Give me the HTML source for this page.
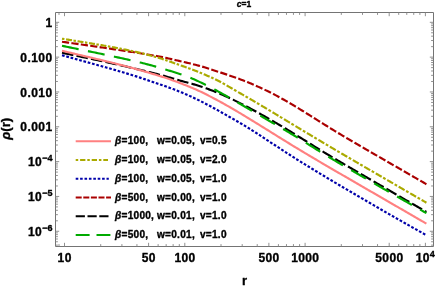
<!DOCTYPE html><html><head><meta charset="utf-8"><title>plot</title><style>html,body{margin:0;padding:0;background:#fff}svg{display:block;will-change:transform}text{font-family:"Liberation Sans",sans-serif;font-weight:bold;fill:#000;stroke:#000;stroke-width:0.35px;stroke-linejoin:round}</style></head><body>
<svg width="436" height="286" viewBox="0 0 436 286">
<rect width="100%" height="100%" fill="#fff"/>
<g fill="none" stroke-width="2.15" stroke-linecap="butt" stroke-linejoin="round">
<path d="M62.00,41.75 L63.50,41.97 L65.00,42.18 L66.50,42.39 L68.00,42.60 L69.50,42.82 L71.00,43.03 L72.50,43.24 L74.00,43.46 L75.50,43.67 L77.00,43.88 L78.50,44.10 L80.00,44.31 L81.50,44.52 L83.00,44.74 L84.50,44.95 L86.00,45.17 L87.50,45.38 L89.00,45.60 L90.50,45.81 L92.00,46.03 L93.50,46.25 L95.00,46.46 L96.50,46.68 L98.00,46.90 L99.50,47.12 L101.00,47.33 L102.50,47.55 L104.00,47.77 L105.50,47.99 L107.00,48.21 L108.50,48.43 L110.00,48.65 L111.50,48.87 L113.00,49.10 L114.50,49.32 L116.00,49.54 L117.50,49.77 L119.00,49.99 L120.50,50.22 L122.00,50.45 L123.50,50.67 L125.00,50.90 L126.50,51.13 L128.00,51.36 L129.50,51.59 L131.00,51.83 L132.50,52.06 L134.00,52.30 L135.50,52.53 L137.00,52.77 L138.50,53.01 L140.00,53.25 L141.50,53.49 L143.00,53.73 L144.50,53.98 L146.00,54.23 L147.50,54.48 L149.00,54.73 L150.50,54.98 L152.00,55.23 L153.50,55.49 L155.00,55.75 L156.50,56.01 L158.00,56.28 L159.50,56.54 L161.00,56.82 L162.50,57.11 L164.00,57.43 L165.50,57.75 L167.00,58.09 L168.50,58.44 L170.00,58.79 L171.50,59.15 L173.00,59.50 L174.50,59.85 L176.00,60.19 L177.50,60.52 L179.00,60.86 L180.50,61.19 L182.00,61.53 L183.50,61.88 L185.00,62.23 L186.50,62.58 L188.00,62.94 L189.50,63.30 L191.00,63.67 L192.50,64.04 L194.00,64.42 L195.50,64.81 L197.00,65.20 L198.50,65.61 L200.00,66.02 L201.50,66.44 L203.00,66.88 L204.50,67.32 L206.00,67.78 L207.50,68.24 L209.00,68.71 L210.50,69.19 L212.00,69.68 L213.50,70.17 L215.00,70.66 L216.50,71.15 L218.00,71.65 L219.50,72.14 L221.00,72.64 L222.50,73.13 L224.00,73.63 L225.50,74.13 L227.00,74.63 L228.50,75.14 L230.00,75.65 L231.50,76.17 L233.00,76.69 L234.50,77.21 L236.00,77.75 L237.50,78.29 L239.00,78.84 L240.50,79.40 L242.00,79.97 L243.50,80.54 L245.00,81.13 L246.50,81.73 L248.00,82.34 L249.50,82.96 L251.00,83.59 L252.50,84.23 L254.00,84.88 L255.50,85.54 L257.00,86.20 L258.50,86.87 L260.00,87.55 L261.50,88.23 L263.00,88.93 L264.50,89.64 L266.00,90.35 L267.50,91.08 L269.00,91.81 L270.50,92.56 L272.00,93.31 L273.50,94.08 L275.00,94.86 L276.50,95.65 L278.00,96.46 L279.50,97.27 L281.00,98.10 L282.50,98.94 L284.00,99.79 L285.50,100.64 L287.00,101.50 L288.50,102.37 L290.00,103.25 L291.50,104.13 L293.00,105.02 L294.50,105.92 L296.00,106.82 L297.50,107.73 L299.00,108.65 L300.50,109.57 L302.00,110.49 L303.50,111.42 L305.00,112.36 L306.50,113.29 L308.00,114.23 L309.50,115.17 L311.00,116.12 L312.50,117.06 L314.00,118.00 L315.50,118.95 L317.00,119.89 L318.50,120.83 L320.00,121.77 L321.50,122.71 L323.00,123.65 L324.50,124.59 L326.00,125.52 L327.50,126.45 L329.00,127.37 L330.50,128.30 L332.00,129.22 L333.50,130.13 L335.00,131.05 L336.50,131.96 L338.00,132.86 L339.50,133.77 L341.00,134.67 L342.50,135.56 L344.00,136.46 L345.50,137.35 L347.00,138.24 L348.50,139.12 L350.00,140.00 L351.50,140.89 L353.00,141.76 L354.50,142.64 L356.00,143.52 L357.50,144.39 L359.00,145.26 L360.50,146.14 L362.00,147.01 L363.50,147.88 L365.00,148.75 L366.50,149.61 L368.00,150.48 L369.50,151.35 L371.00,152.21 L372.50,153.08 L374.00,153.95 L375.50,154.81 L377.00,155.68 L378.50,156.54 L380.00,157.41 L381.50,158.27 L383.00,159.14 L384.50,160.00 L386.00,160.87 L387.50,161.74 L389.00,162.60 L390.50,163.47 L392.00,164.33 L393.50,165.20 L395.00,166.06 L396.50,166.93 L398.00,167.80 L399.50,168.66 L401.00,169.53 L402.50,170.39 L404.00,171.26 L405.50,172.13 L407.00,172.99 L408.50,173.86 L410.00,174.73 L411.50,175.59 L413.00,176.46 L414.50,177.33 L416.00,178.19 L417.50,179.06 L419.00,179.93 L420.50,180.79 L422.00,181.66 L423.50,182.53 L425.00,183.39 L426.40,184.20" stroke="#aa0000" stroke-dasharray="7.2 2.3"/>
<path d="M62.00,52.73 L63.50,53.04 L65.00,53.36 L66.50,53.67 L68.00,53.99 L69.50,54.30 L71.00,54.62 L72.50,54.93 L74.00,55.25 L75.50,55.57 L77.00,55.88 L78.50,56.20 L80.00,56.51 L81.50,56.83 L83.00,57.15 L84.50,57.46 L86.00,57.78 L87.50,58.10 L89.00,58.41 L90.50,58.73 L92.00,59.05 L93.50,59.36 L95.00,59.68 L96.50,60.00 L98.00,60.31 L99.50,60.63 L101.00,60.95 L102.50,61.27 L104.00,61.60 L105.50,61.92 L107.00,62.25 L108.50,62.58 L110.00,62.91 L111.50,63.25 L113.00,63.58 L114.50,63.92 L116.00,64.26 L117.50,64.60 L119.00,64.94 L120.50,65.29 L122.00,65.63 L123.50,65.98 L125.00,66.32 L126.50,66.67 L128.00,67.01 L129.50,67.36 L131.00,67.70 L132.50,68.05 L134.00,68.40 L135.50,68.76 L137.00,69.11 L138.50,69.46 L140.00,69.82 L141.50,70.18 L143.00,70.54 L144.50,70.91 L146.00,71.27 L147.50,71.64 L149.00,72.01 L150.50,72.39 L152.00,72.76 L153.50,73.14 L155.00,73.52 L156.50,73.91 L158.00,74.30 L159.50,74.69 L161.00,75.08 L162.50,75.49 L164.00,75.91 L165.50,76.33 L167.00,76.76 L168.50,77.19 L170.00,77.63 L171.50,78.07 L173.00,78.51 L174.50,78.95 L176.00,79.39 L177.50,79.83 L179.00,80.26 L180.50,80.69 L182.00,81.11 L183.50,81.51 L185.00,81.92 L186.50,82.32 L188.00,82.71 L189.50,83.12 L191.00,83.52 L192.50,83.93 L194.00,84.36 L195.50,84.79 L197.00,85.24 L198.50,85.71 L200.00,86.20 L201.50,86.70 L203.00,87.22 L204.50,87.74 L206.00,88.28 L207.50,88.82 L209.00,89.37 L210.50,89.94 L212.00,90.51 L213.50,91.10 L215.00,91.69 L216.50,92.30 L218.00,92.92 L219.50,93.54 L221.00,94.18 L222.50,94.83 L224.00,95.49 L225.50,96.15 L227.00,96.83 L228.50,97.52 L230.00,98.22 L231.50,98.93 L233.00,99.64 L234.50,100.37 L236.00,101.11 L237.50,101.85 L239.00,102.61 L240.50,103.37 L242.00,104.14 L243.50,104.92 L245.00,105.70 L246.50,106.48 L248.00,107.28 L249.50,108.07 L251.00,108.87 L252.50,109.68 L254.00,110.49 L255.50,111.31 L257.00,112.13 L258.50,112.96 L260.00,113.78 L261.50,114.62 L263.00,115.46 L264.50,116.30 L266.00,117.14 L267.50,117.99 L269.00,118.85 L270.50,119.71 L272.00,120.57 L273.50,121.44 L275.00,122.31 L276.50,123.19 L278.00,124.07 L279.50,124.95 L281.00,125.84 L282.50,126.74 L284.00,127.63 L285.50,128.54 L287.00,129.44 L288.50,130.35 L290.00,131.26 L291.50,132.18 L293.00,133.10 L294.50,134.02 L296.00,134.95 L297.50,135.87 L299.00,136.80 L300.50,137.73 L302.00,138.67 L303.50,139.60 L305.00,140.53 L306.50,141.46 L308.00,142.40 L309.50,143.33 L311.00,144.26 L312.50,145.19 L314.00,146.12 L315.50,147.05 L317.00,147.97 L318.50,148.89 L320.00,149.81 L321.50,150.73 L323.00,151.64 L324.50,152.55 L326.00,153.46 L327.50,154.37 L329.00,155.27 L330.50,156.17 L332.00,157.07 L333.50,157.96 L335.00,158.86 L336.50,159.75 L338.00,160.63 L339.50,161.52 L341.00,162.40 L342.50,163.28 L344.00,164.16 L345.50,165.04 L347.00,165.92 L348.50,166.80 L350.00,167.67 L351.50,168.54 L353.00,169.42 L354.50,170.29 L356.00,171.16 L357.50,172.03 L359.00,172.90 L360.50,173.77 L362.00,174.64 L363.50,175.51 L365.00,176.38 L366.50,177.25 L368.00,178.12 L369.50,178.98 L371.00,179.85 L372.50,180.72 L374.00,181.59 L375.50,182.46 L377.00,183.32 L378.50,184.19 L380.00,185.06 L381.50,185.93 L383.00,186.80 L384.50,187.66 L386.00,188.53 L387.50,189.40 L389.00,190.27 L390.50,191.14 L392.00,192.00 L393.50,192.87 L395.00,193.74 L396.50,194.61 L398.00,195.47 L399.50,196.34 L401.00,197.21 L402.50,198.08 L404.00,198.95 L405.50,199.81 L407.00,200.68 L408.50,201.55 L410.00,202.42 L411.50,203.29 L413.00,204.15 L414.50,205.02 L416.00,205.89 L417.50,206.76 L419.00,207.62 L420.50,208.49 L422.00,209.36 L423.50,210.23 L425.00,211.10 L426.40,211.91" stroke="#000000" stroke-dasharray="11.6 3.2"/>
<path d="M62.00,55.21 L63.50,55.63 L65.00,56.04 L66.50,56.46 L68.00,56.87 L69.50,57.29 L71.00,57.71 L72.50,58.12 L74.00,58.54 L75.50,58.95 L77.00,59.37 L78.50,59.78 L80.00,60.20 L81.50,60.62 L83.00,61.03 L84.50,61.45 L86.00,61.87 L87.50,62.28 L89.00,62.70 L90.50,63.12 L92.00,63.53 L93.50,63.95 L95.00,64.37 L96.50,64.79 L98.00,65.20 L99.50,65.62 L101.00,66.04 L102.50,66.46 L104.00,66.88 L105.50,67.31 L107.00,67.73 L108.50,68.16 L110.00,68.59 L111.50,69.02 L113.00,69.45 L114.50,69.88 L116.00,70.32 L117.50,70.75 L119.00,71.19 L120.50,71.63 L122.00,72.07 L123.50,72.51 L125.00,72.96 L126.50,73.40 L128.00,73.85 L129.50,74.30 L131.00,74.75 L132.50,75.21 L134.00,75.68 L135.50,76.15 L137.00,76.63 L138.50,77.12 L140.00,77.61 L141.50,78.11 L143.00,78.61 L144.50,79.12 L146.00,79.62 L147.50,80.13 L149.00,80.65 L150.50,81.16 L152.00,81.67 L153.50,82.19 L155.00,82.70 L156.50,83.22 L158.00,83.73 L159.50,84.24 L161.00,84.75 L162.50,85.26 L164.00,85.78 L165.50,86.31 L167.00,86.84 L168.50,87.38 L170.00,87.93 L171.50,88.48 L173.00,89.05 L174.50,89.62 L176.00,90.20 L177.50,90.79 L179.00,91.39 L180.50,91.99 L182.00,92.61 L183.50,93.24 L185.00,93.88 L186.50,94.53 L188.00,95.19 L189.50,95.86 L191.00,96.55 L192.50,97.24 L194.00,97.94 L195.50,98.66 L197.00,99.38 L198.50,100.12 L200.00,100.87 L201.50,101.62 L203.00,102.38 L204.50,103.15 L206.00,103.93 L207.50,104.72 L209.00,105.51 L210.50,106.31 L212.00,107.12 L213.50,107.93 L215.00,108.75 L216.50,109.58 L218.00,110.41 L219.50,111.25 L221.00,112.09 L222.50,112.94 L224.00,113.79 L225.50,114.64 L227.00,115.50 L228.50,116.35 L230.00,117.20 L231.50,118.05 L233.00,118.91 L234.50,119.76 L236.00,120.62 L237.50,121.48 L239.00,122.35 L240.50,123.22 L242.00,124.10 L243.50,124.99 L245.00,125.89 L246.50,126.80 L248.00,127.72 L249.50,128.66 L251.00,129.61 L252.50,130.56 L254.00,131.52 L255.50,132.49 L257.00,133.46 L258.50,134.44 L260.00,135.41 L261.50,136.40 L263.00,137.38 L264.50,138.37 L266.00,139.35 L267.50,140.34 L269.00,141.32 L270.50,142.31 L272.00,143.29 L273.50,144.27 L275.00,145.25 L276.50,146.23 L278.00,147.21 L279.50,148.19 L281.00,149.17 L282.50,150.15 L284.00,151.13 L285.50,152.10 L287.00,153.08 L288.50,154.05 L290.00,155.02 L291.50,155.99 L293.00,156.95 L294.50,157.90 L296.00,158.85 L297.50,159.80 L299.00,160.74 L300.50,161.67 L302.00,162.59 L303.50,163.52 L305.00,164.44 L306.50,165.37 L308.00,166.29 L309.50,167.20 L311.00,168.12 L312.50,169.04 L314.00,169.95 L315.50,170.86 L317.00,171.77 L318.50,172.68 L320.00,173.58 L321.50,174.49 L323.00,175.39 L324.50,176.29 L326.00,177.19 L327.50,178.09 L329.00,178.98 L330.50,179.88 L332.00,180.77 L333.50,181.66 L335.00,182.56 L336.50,183.45 L338.00,184.33 L339.50,185.22 L341.00,186.11 L342.50,186.99 L344.00,187.88 L345.50,188.76 L347.00,189.64 L348.50,190.52 L350.00,191.40 L351.50,192.28 L353.00,193.16 L354.50,194.04 L356.00,194.92 L357.50,195.79 L359.00,196.67 L360.50,197.54 L362.00,198.42 L363.50,199.29 L365.00,200.17 L366.50,201.04 L368.00,201.91 L369.50,202.79 L371.00,203.66 L372.50,204.53 L374.00,205.40 L375.50,206.27 L377.00,207.14 L378.50,208.01 L380.00,208.88 L381.50,209.75 L383.00,210.62 L384.50,211.49 L386.00,212.35 L387.50,213.21 L389.00,214.08 L390.50,214.94 L392.00,215.79 L393.50,216.65 L395.00,217.51 L396.50,218.36 L398.00,219.22 L399.50,220.07 L401.00,220.92 L402.50,221.77 L404.00,222.62 L405.50,223.47 L407.00,224.32 L408.50,225.17 L410.00,226.01 L411.50,226.86 L413.00,227.70 L414.50,228.55 L416.00,229.40 L417.50,230.24 L419.00,231.08 L420.50,231.93 L422.00,232.77 L423.50,233.62 L425.00,234.46 L426.40,235.25" stroke="#0000aa" stroke-dasharray="2.7 1.75"/>
<path d="M62.00,45.81 L63.50,46.11 L65.00,46.42 L66.50,46.73 L68.00,47.03 L69.50,47.34 L71.00,47.64 L72.50,47.95 L74.00,48.26 L75.50,48.56 L77.00,48.87 L78.50,49.18 L80.00,49.48 L81.50,49.79 L83.00,50.10 L84.50,50.41 L86.00,50.71 L87.50,51.02 L89.00,51.33 L90.50,51.64 L92.00,51.95 L93.50,52.26 L95.00,52.57 L96.50,52.88 L98.00,53.20 L99.50,53.51 L101.00,53.82 L102.50,54.14 L104.00,54.45 L105.50,54.77 L107.00,55.08 L108.50,55.40 L110.00,55.72 L111.50,56.04 L113.00,56.36 L114.50,56.68 L116.00,57.01 L117.50,57.33 L119.00,57.66 L120.50,57.98 L122.00,58.31 L123.50,58.65 L125.00,58.98 L126.50,59.32 L128.00,59.65 L129.50,59.99 L131.00,60.34 L132.50,60.68 L134.00,61.03 L135.50,61.39 L137.00,61.74 L138.50,62.10 L140.00,62.46 L141.50,62.83 L143.00,63.20 L144.50,63.58 L146.00,63.96 L147.50,64.35 L149.00,64.74 L150.50,65.13 L152.00,65.54 L153.50,65.95 L155.00,66.36 L156.50,66.78 L158.00,67.21 L159.50,67.65 L161.00,68.09 L162.50,68.55 L164.00,69.01 L165.50,69.47 L167.00,69.94 L168.50,70.41 L170.00,70.87 L171.50,71.33 L173.00,71.80 L174.50,72.27 L176.00,72.74 L177.50,73.22 L179.00,73.71 L180.50,74.21 L182.00,74.72 L183.50,75.24 L185.00,75.78 L186.50,76.33 L188.00,76.89 L189.50,77.48 L191.00,78.08 L192.50,78.70 L194.00,79.35 L195.50,80.01 L197.00,80.69 L198.50,81.39 L200.00,82.10 L201.50,82.82 L203.00,83.55 L204.50,84.29 L206.00,85.05 L207.50,85.81 L209.00,86.58 L210.50,87.37 L212.00,88.15 L213.50,88.95 L215.00,89.75 L216.50,90.56 L218.00,91.37 L219.50,92.19 L221.00,93.01 L222.50,93.84 L224.00,94.68 L225.50,95.53 L227.00,96.38 L228.50,97.23 L230.00,98.09 L231.50,98.95 L233.00,99.82 L234.50,100.68 L236.00,101.55 L237.50,102.41 L239.00,103.28 L240.50,104.14 L242.00,105.01 L243.50,105.87 L245.00,106.74 L246.50,107.61 L248.00,108.48 L249.50,109.35 L251.00,110.23 L252.50,111.10 L254.00,111.97 L255.50,112.85 L257.00,113.72 L258.50,114.60 L260.00,115.47 L261.50,116.34 L263.00,117.22 L264.50,118.09 L266.00,118.96 L267.50,119.83 L269.00,120.71 L270.50,121.58 L272.00,122.45 L273.50,123.32 L275.00,124.20 L276.50,125.07 L278.00,125.95 L279.50,126.83 L281.00,127.71 L282.50,128.59 L284.00,129.48 L285.50,130.37 L287.00,131.26 L288.50,132.15 L290.00,133.05 L291.50,133.96 L293.00,134.86 L294.50,135.77 L296.00,136.69 L297.50,137.60 L299.00,138.53 L300.50,139.45 L302.00,140.38 L303.50,141.31 L305.00,142.25 L306.50,143.19 L308.00,144.13 L309.50,145.07 L311.00,146.01 L312.50,146.95 L314.00,147.89 L315.50,148.83 L317.00,149.76 L318.50,150.70 L320.00,151.63 L321.50,152.55 L323.00,153.47 L324.50,154.39 L326.00,155.31 L327.50,156.21 L329.00,157.12 L330.50,158.02 L332.00,158.91 L333.50,159.81 L335.00,160.69 L336.50,161.58 L338.00,162.46 L339.50,163.34 L341.00,164.22 L342.50,165.09 L344.00,165.97 L345.50,166.84 L347.00,167.71 L348.50,168.58 L350.00,169.44 L351.50,170.31 L353.00,171.18 L354.50,172.04 L356.00,172.91 L357.50,173.77 L359.00,174.64 L360.50,175.50 L362.00,176.37 L363.50,177.23 L365.00,178.10 L366.50,178.96 L368.00,179.82 L369.50,180.69 L371.00,181.55 L372.50,182.41 L374.00,183.28 L375.50,184.14 L377.00,185.00 L378.50,185.87 L380.00,186.73 L381.50,187.59 L383.00,188.45 L384.50,189.31 L386.00,190.17 L387.50,191.03 L389.00,191.89 L390.50,192.75 L392.00,193.61 L393.50,194.47 L395.00,195.32 L396.50,196.18 L398.00,197.04 L399.50,197.89 L401.00,198.75 L402.50,199.60 L404.00,200.46 L405.50,201.31 L407.00,202.16 L408.50,203.01 L410.00,203.87 L411.50,204.72 L413.00,205.57 L414.50,206.42 L416.00,207.27 L417.50,208.12 L419.00,208.98 L420.50,209.83 L422.00,210.68 L423.50,211.53 L425.00,212.38 L426.40,213.17" stroke="#00aa00" stroke-dasharray="17 9.5"/>
<path d="M62.00,38.69 L63.00,38.85 L64.00,39.01 L64.40,39.08 M66.07,39.35 L67.07,39.51 L68.07,39.67 L69.07,39.83 L70.07,40.00 L71.07,40.16 L71.97,40.30 M73.47,40.55 L74.47,40.71 L75.47,40.87 L75.87,40.94 M77.54,41.21 L78.54,41.37 L79.54,41.54 L80.54,41.70 L81.54,41.86 L82.54,42.03 L83.44,42.17 M84.94,42.42 L85.94,42.58 L86.94,42.75 L87.34,42.82 M89.01,43.09 L90.01,43.26 L91.01,43.42 L92.01,43.59 L93.01,43.76 L94.01,43.92 L94.91,44.07 M96.41,44.32 L97.41,44.49 L98.41,44.66 L98.81,44.73 M100.48,45.01 L101.48,45.18 L102.48,45.35 L103.48,45.52 L104.48,45.70 L105.48,45.88 L106.38,46.04 M107.88,46.31 L108.88,46.49 L109.88,46.67 L110.28,46.74 M111.95,47.05 L112.95,47.24 L113.95,47.42 L114.95,47.61 L115.95,47.80 L116.95,48.00 L117.85,48.17 M119.35,48.46 L120.35,48.66 L121.35,48.85 L121.75,48.93 M123.42,49.27 L124.42,49.47 L125.42,49.67 L126.42,49.88 L127.42,50.08 L128.42,50.29 L129.32,50.48 M130.82,50.79 L131.82,51.01 L132.82,51.22 L133.22,51.31 M134.89,51.68 L135.89,51.90 L136.89,52.13 L137.89,52.36 L138.89,52.59 L139.89,52.83 L140.79,53.04 M142.29,53.40 L143.29,53.65 L144.29,53.90 L144.69,54.00 M146.36,54.42 L147.36,54.68 L148.36,54.94 L149.36,55.21 L150.36,55.47 L151.36,55.75 L152.26,55.99 M153.76,56.41 L154.76,56.70 L155.76,56.98 L156.16,57.10 M157.83,57.59 L158.83,57.89 L159.83,58.19 L160.83,58.50 L161.83,58.82 L162.83,59.14 L163.73,59.44 M165.23,59.95 L166.23,60.29 L167.23,60.64 L167.63,60.78 M169.30,61.37 L170.30,61.73 L171.30,62.09 L172.30,62.45 L173.30,62.81 L174.30,63.16 L175.20,63.48 M176.70,64.01 L177.70,64.36 L178.70,64.71 L179.10,64.85 M180.77,65.43 L181.77,65.78 L182.77,66.13 L183.77,66.48 L184.77,66.83 L185.77,67.18 L186.67,67.50 M188.17,68.04 L189.17,68.40 L190.17,68.76 L190.57,68.91 M192.24,69.53 L193.24,69.91 L194.24,70.29 L195.24,70.68 L196.24,71.08 L197.24,71.48 L198.14,71.84 M199.64,72.46 L200.64,72.88 L201.64,73.30 L202.04,73.47 M203.71,74.18 L204.71,74.60 L205.71,75.03 L206.71,75.46 L207.71,75.89 L208.71,76.33 L209.61,76.72 M211.11,77.40 L212.11,77.85 L213.11,78.31 L213.51,78.50 M215.18,79.29 L216.18,79.78 L217.18,80.27 L218.18,80.78 L219.18,81.29 L220.18,81.82 L221.08,82.30 M222.58,83.12 L223.58,83.67 L224.58,84.23 L224.98,84.46 M226.65,85.40 L227.65,85.98 L228.65,86.56 L229.65,87.14 L230.65,87.72 L231.65,88.30 L232.55,88.83 M234.05,89.70 L235.05,90.29 L236.05,90.87 L236.45,91.10 M238.12,92.07 L239.12,92.64 L240.12,93.21 L241.12,93.78 L242.12,94.36 L243.12,94.93 L244.02,95.44 M245.52,96.31 L246.52,96.88 L247.52,97.46 L247.92,97.69 M249.59,98.66 L250.59,99.25 L251.59,99.83 L252.59,100.41 L253.59,101.00 L254.59,101.59 L255.49,102.11 M256.99,103.00 L257.99,103.59 L258.99,104.18 L259.39,104.41 M261.06,105.40 L262.06,106.00 L263.06,106.59 L264.06,107.18 L265.06,107.78 L266.06,108.38 L266.96,108.91 M268.46,109.81 L269.46,110.41 L270.46,111.01 L270.86,111.25 M272.53,112.25 L273.53,112.85 L274.53,113.45 L275.53,114.05 L276.53,114.65 L277.53,115.26 L278.43,115.80 M279.93,116.70 L280.93,117.31 L281.93,117.91 L282.33,118.15 M284.00,119.16 L285.00,119.76 L286.00,120.37 L287.00,120.97 L288.00,121.58 L289.00,122.18 L289.90,122.72 M291.40,123.63 L292.40,124.23 L293.40,124.84 L293.80,125.08 M295.47,126.09 L296.47,126.69 L297.47,127.30 L298.47,127.90 L299.47,128.50 L300.47,129.10 L301.37,129.65 M302.87,130.55 L303.87,131.15 L304.87,131.75 L305.27,131.99 M306.94,132.99 L307.94,133.59 L308.94,134.19 L309.94,134.79 L310.94,135.39 L311.94,135.99 L312.84,136.53 M314.34,137.42 L315.34,138.02 L316.34,138.62 L316.74,138.85 M318.41,139.85 L319.41,140.44 L320.41,141.04 L321.41,141.63 L322.41,142.22 L323.41,142.82 L324.31,143.35 M325.81,144.24 L326.81,144.83 L327.81,145.42 L328.21,145.66 M329.88,146.64 L330.88,147.23 L331.88,147.82 L332.88,148.41 L333.88,149.00 L334.88,149.58 L335.78,150.11 M337.28,150.99 L338.28,151.58 L339.28,152.17 L339.68,152.40 M341.35,153.38 L342.35,153.96 L343.35,154.55 L344.35,155.13 L345.35,155.72 L346.35,156.30 L347.25,156.83 M348.75,157.70 L349.75,158.28 L350.75,158.87 L351.15,159.10 M352.82,160.07 L353.82,160.65 L354.82,161.24 L355.82,161.82 L356.82,162.40 L357.82,162.98 L358.72,163.50 M360.22,164.37 L361.22,164.96 L362.22,165.54 L362.62,165.77 M364.29,166.74 L365.29,167.32 L366.29,167.90 L367.29,168.48 L368.29,169.06 L369.29,169.64 L370.19,170.16 M371.69,171.03 L372.69,171.61 L373.69,172.19 L374.09,172.42 M375.76,173.39 L376.76,173.97 L377.76,174.55 L378.76,175.13 L379.76,175.70 L380.76,176.28 L381.66,176.80 M383.16,177.67 L384.16,178.25 L385.16,178.83 L385.56,179.06 M387.23,180.03 L388.23,180.61 L389.23,181.19 L390.23,181.77 L391.23,182.34 L392.23,182.92 L393.13,183.44 M394.63,184.31 L395.63,184.89 L396.63,185.47 L397.03,185.70 M398.70,186.67 L399.70,187.25 L400.70,187.83 L401.70,188.40 L402.70,188.98 L403.70,189.56 L404.60,190.08 M406.10,190.95 L407.10,191.53 L408.10,192.11 L408.50,192.34 M410.17,193.31 L411.17,193.88 L412.17,194.46 L413.17,195.04 L414.17,195.62 L415.17,196.20 L416.07,196.72 M417.57,197.59 L418.57,198.17 L419.57,198.74 L419.97,198.98 M421.64,199.94 L422.64,200.52 L423.64,201.10 L424.64,201.68 L425.64,202.26 L426.40,202.70" stroke="#aaaa00"/>
<path d="M62.00,50.80 L63.50,51.15 L65.00,51.50 L66.50,51.86 L68.00,52.21 L69.50,52.56 L71.00,52.92 L72.50,53.27 L74.00,53.62 L75.50,53.98 L77.00,54.33 L78.50,54.68 L80.00,55.04 L81.50,55.39 L83.00,55.75 L84.50,56.10 L86.00,56.45 L87.50,56.81 L89.00,57.16 L90.50,57.52 L92.00,57.87 L93.50,58.22 L95.00,58.58 L96.50,58.93 L98.00,59.29 L99.50,59.64 L101.00,60.00 L102.50,60.36 L104.00,60.72 L105.50,61.09 L107.00,61.45 L108.50,61.83 L110.00,62.20 L111.50,62.58 L113.00,62.95 L114.50,63.33 L116.00,63.72 L117.50,64.10 L119.00,64.49 L120.50,64.87 L122.00,65.26 L123.50,65.65 L125.00,66.04 L126.50,66.43 L128.00,66.83 L129.50,67.22 L131.00,67.62 L132.50,68.02 L134.00,68.43 L135.50,68.84 L137.00,69.26 L138.50,69.69 L140.00,70.12 L141.50,70.55 L143.00,70.98 L144.50,71.42 L146.00,71.87 L147.50,72.31 L149.00,72.76 L150.50,73.21 L152.00,73.66 L153.50,74.11 L155.00,74.57 L156.50,75.03 L158.00,75.48 L159.50,75.94 L161.00,76.40 L162.50,76.87 L164.00,77.35 L165.50,77.83 L167.00,78.33 L168.50,78.83 L170.00,79.35 L171.50,79.87 L173.00,80.40 L174.50,80.95 L176.00,81.50 L177.50,82.07 L179.00,82.65 L180.50,83.24 L182.00,83.83 L183.50,84.41 L185.00,85.00 L186.50,85.59 L188.00,86.18 L189.50,86.78 L191.00,87.39 L192.50,88.01 L194.00,88.65 L195.50,89.30 L197.00,89.96 L198.50,90.65 L200.00,91.36 L201.50,92.08 L203.00,92.82 L204.50,93.56 L206.00,94.31 L207.50,95.07 L209.00,95.84 L210.50,96.61 L212.00,97.40 L213.50,98.18 L215.00,98.98 L216.50,99.78 L218.00,100.59 L219.50,101.41 L221.00,102.23 L222.50,103.06 L224.00,103.89 L225.50,104.73 L227.00,105.58 L228.50,106.43 L230.00,107.29 L231.50,108.15 L233.00,109.02 L234.50,109.89 L236.00,110.77 L237.50,111.66 L239.00,112.55 L240.50,113.45 L242.00,114.35 L243.50,115.25 L245.00,116.16 L246.50,117.07 L248.00,117.98 L249.50,118.90 L251.00,119.81 L252.50,120.73 L254.00,121.66 L255.50,122.58 L257.00,123.50 L258.50,124.43 L260.00,125.36 L261.50,126.29 L263.00,127.22 L264.50,128.16 L266.00,129.09 L267.50,130.02 L269.00,130.96 L270.50,131.89 L272.00,132.82 L273.50,133.76 L275.00,134.69 L276.50,135.62 L278.00,136.56 L279.50,137.49 L281.00,138.42 L282.50,139.34 L284.00,140.27 L285.50,141.20 L287.00,142.12 L288.50,143.04 L290.00,143.96 L291.50,144.88 L293.00,145.80 L294.50,146.71 L296.00,147.62 L297.50,148.53 L299.00,149.44 L300.50,150.34 L302.00,151.25 L303.50,152.15 L305.00,153.05 L306.50,153.95 L308.00,154.84 L309.50,155.73 L311.00,156.63 L312.50,157.51 L314.00,158.40 L315.50,159.29 L317.00,160.17 L318.50,161.06 L320.00,161.94 L321.50,162.82 L323.00,163.70 L324.50,164.58 L326.00,165.46 L327.50,166.33 L329.00,167.21 L330.50,168.08 L332.00,168.96 L333.50,169.83 L335.00,170.70 L336.50,171.58 L338.00,172.45 L339.50,173.32 L341.00,174.19 L342.50,175.06 L344.00,175.93 L345.50,176.80 L347.00,177.67 L348.50,178.54 L350.00,179.41 L351.50,180.28 L353.00,181.15 L354.50,182.02 L356.00,182.88 L357.50,183.75 L359.00,184.62 L360.50,185.49 L362.00,186.36 L363.50,187.23 L365.00,188.09 L366.50,188.96 L368.00,189.83 L369.50,190.70 L371.00,191.57 L372.50,192.43 L374.00,193.30 L375.50,194.17 L377.00,195.04 L378.50,195.91 L380.00,196.77 L381.50,197.64 L383.00,198.51 L384.50,199.38 L386.00,200.25 L387.50,201.11 L389.00,201.98 L390.50,202.85 L392.00,203.72 L393.50,204.59 L395.00,205.45 L396.50,206.32 L398.00,207.19 L399.50,208.06 L401.00,208.93 L402.50,209.79 L404.00,210.66 L405.50,211.53 L407.00,212.40 L408.50,213.26 L410.00,214.13 L411.50,215.00 L413.00,215.87 L414.50,216.74 L416.00,217.60 L417.50,218.47 L419.00,219.34 L420.50,220.21 L422.00,221.08 L423.50,221.94 L425.00,222.81 L426.40,223.62" stroke="#ff8080"/>
</g>
<path d="M55.5,12.5 H433.5 V246.5 H55.5 Z" fill="none" stroke="#747474" stroke-width="1"/>
<path d="M59.00,246.5 v-2.4 M59.00,12.5 v2.4 M64.50,246.5 v-3.7 M64.50,12.5 v3.7 M100.71,246.5 v-2.4 M100.71,12.5 v2.4 M121.90,246.5 v-2.4 M121.90,12.5 v2.4 M136.93,246.5 v-2.4 M136.93,12.5 v2.4 M148.59,246.5 v-3.7 M148.59,12.5 v3.7 M158.11,246.5 v-2.4 M158.11,12.5 v2.4 M166.17,246.5 v-2.4 M166.17,12.5 v2.4 M173.14,246.5 v-2.4 M173.14,12.5 v2.4 M179.30,246.5 v-2.4 M179.30,12.5 v2.4 M184.80,246.5 v-3.7 M184.80,12.5 v3.7 M221.01,246.5 v-2.4 M221.01,12.5 v2.4 M242.20,246.5 v-2.4 M242.20,12.5 v2.4 M257.23,246.5 v-2.4 M257.23,12.5 v2.4 M268.89,246.5 v-3.7 M268.89,12.5 v3.7 M278.41,246.5 v-2.4 M278.41,12.5 v2.4 M286.47,246.5 v-2.4 M286.47,12.5 v2.4 M293.44,246.5 v-2.4 M293.44,12.5 v2.4 M299.60,246.5 v-2.4 M299.60,12.5 v2.4 M305.10,246.5 v-3.7 M305.10,12.5 v3.7 M341.31,246.5 v-2.4 M341.31,12.5 v2.4 M362.50,246.5 v-2.4 M362.50,12.5 v2.4 M377.53,246.5 v-2.4 M377.53,12.5 v2.4 M389.19,246.5 v-3.7 M389.19,12.5 v3.7 M398.71,246.5 v-2.4 M398.71,12.5 v2.4 M406.77,246.5 v-2.4 M406.77,12.5 v2.4 M413.74,246.5 v-2.4 M413.74,12.5 v2.4 M419.90,246.5 v-2.4 M419.90,12.5 v2.4 M425.40,246.5 v-3.7 M425.40,12.5 v3.7 M55.5,22.30 h3.7 M433.5,22.30 h-3.7 M55.5,57.13 h3.7 M433.5,57.13 h-3.7 M55.5,46.65 h2.4 M433.5,46.65 h-2.4 M55.5,40.51 h2.4 M433.5,40.51 h-2.4 M55.5,36.16 h2.4 M433.5,36.16 h-2.4 M55.5,32.78 h2.4 M433.5,32.78 h-2.4 M55.5,30.03 h2.4 M433.5,30.03 h-2.4 M55.5,27.70 h2.4 M433.5,27.70 h-2.4 M55.5,25.68 h2.4 M433.5,25.68 h-2.4 M55.5,23.89 h2.4 M433.5,23.89 h-2.4 M55.5,91.96 h3.7 M433.5,91.96 h-3.7 M55.5,81.48 h2.4 M433.5,81.48 h-2.4 M55.5,75.34 h2.4 M433.5,75.34 h-2.4 M55.5,70.99 h2.4 M433.5,70.99 h-2.4 M55.5,67.61 h2.4 M433.5,67.61 h-2.4 M55.5,64.86 h2.4 M433.5,64.86 h-2.4 M55.5,62.53 h2.4 M433.5,62.53 h-2.4 M55.5,60.51 h2.4 M433.5,60.51 h-2.4 M55.5,58.72 h2.4 M433.5,58.72 h-2.4 M55.5,126.79 h3.7 M433.5,126.79 h-3.7 M55.5,116.31 h2.4 M433.5,116.31 h-2.4 M55.5,110.17 h2.4 M433.5,110.17 h-2.4 M55.5,105.82 h2.4 M433.5,105.82 h-2.4 M55.5,102.44 h2.4 M433.5,102.44 h-2.4 M55.5,99.69 h2.4 M433.5,99.69 h-2.4 M55.5,97.36 h2.4 M433.5,97.36 h-2.4 M55.5,95.34 h2.4 M433.5,95.34 h-2.4 M55.5,93.55 h2.4 M433.5,93.55 h-2.4 M55.5,161.62 h3.7 M433.5,161.62 h-3.7 M55.5,151.14 h2.4 M433.5,151.14 h-2.4 M55.5,145.00 h2.4 M433.5,145.00 h-2.4 M55.5,140.65 h2.4 M433.5,140.65 h-2.4 M55.5,137.27 h2.4 M433.5,137.27 h-2.4 M55.5,134.52 h2.4 M433.5,134.52 h-2.4 M55.5,132.19 h2.4 M433.5,132.19 h-2.4 M55.5,130.17 h2.4 M433.5,130.17 h-2.4 M55.5,128.38 h2.4 M433.5,128.38 h-2.4 M55.5,196.45 h3.7 M433.5,196.45 h-3.7 M55.5,185.97 h2.4 M433.5,185.97 h-2.4 M55.5,179.83 h2.4 M433.5,179.83 h-2.4 M55.5,175.48 h2.4 M433.5,175.48 h-2.4 M55.5,172.10 h2.4 M433.5,172.10 h-2.4 M55.5,169.35 h2.4 M433.5,169.35 h-2.4 M55.5,167.02 h2.4 M433.5,167.02 h-2.4 M55.5,165.00 h2.4 M433.5,165.00 h-2.4 M55.5,163.21 h2.4 M433.5,163.21 h-2.4 M55.5,231.28 h3.7 M433.5,231.28 h-3.7 M55.5,220.80 h2.4 M433.5,220.80 h-2.4 M55.5,214.66 h2.4 M433.5,214.66 h-2.4 M55.5,210.31 h2.4 M433.5,210.31 h-2.4 M55.5,206.93 h2.4 M433.5,206.93 h-2.4 M55.5,204.18 h2.4 M433.5,204.18 h-2.4 M55.5,201.85 h2.4 M433.5,201.85 h-2.4 M55.5,199.83 h2.4 M433.5,199.83 h-2.4 M55.5,198.04 h2.4 M433.5,198.04 h-2.4 M55.5,245.14 h2.4 M433.5,245.14 h-2.4 M55.5,241.76 h2.4 M433.5,241.76 h-2.4 M55.5,239.01 h2.4 M433.5,239.01 h-2.4 M55.5,236.68 h2.4 M433.5,236.68 h-2.4 M55.5,234.66 h2.4 M433.5,234.66 h-2.4 M55.5,232.87 h2.4 M433.5,232.87 h-2.4" fill="none" stroke="#858585" stroke-width="0.9"/>
<text x="52.6" y="26.8" font-size="12" text-anchor="end" letter-spacing="0.45">1</text>
<text x="52.6" y="61.6" font-size="12" text-anchor="end" letter-spacing="0.45">0.100</text>
<text x="52.6" y="96.5" font-size="12" text-anchor="end" letter-spacing="0.45">0.010</text>
<text x="52.6" y="131.3" font-size="12" text-anchor="end" letter-spacing="0.45">0.001</text>
<text x="52.4" y="166.4" font-size="12" text-anchor="end" letter-spacing="0.4">10<tspan font-size="9" dy="-5.2" letter-spacing="0">−4</tspan></text>
<text x="52.4" y="201.2" font-size="12" text-anchor="end" letter-spacing="0.4">10<tspan font-size="9" dy="-5.2" letter-spacing="0">−5</tspan></text>
<text x="52.4" y="236.1" font-size="12" text-anchor="end" letter-spacing="0.4">10<tspan font-size="9" dy="-5.2" letter-spacing="0">−6</tspan></text>
<text x="64.7" y="262.4" font-size="12" text-anchor="middle" letter-spacing="0.4">10</text>
<text x="148.8" y="262.4" font-size="12" text-anchor="middle" letter-spacing="0.4">50</text>
<text x="185.0" y="262.4" font-size="12" text-anchor="middle" letter-spacing="0.4">100</text>
<text x="269.1" y="262.4" font-size="12" text-anchor="middle" letter-spacing="0.4">500</text>
<text x="305.3" y="262.4" font-size="12" text-anchor="middle" letter-spacing="0.4">1000</text>
<text x="389.4" y="262.4" font-size="12" text-anchor="middle" letter-spacing="0.4">5000</text>
<text x="425.3" y="262.4" font-size="12" text-anchor="middle" letter-spacing="0.4">10<tspan font-size="9" dy="-5.2" letter-spacing="0">4</tspan></text>
<text x="244.6" y="285" font-size="13" text-anchor="middle">r</text>
<text transform="translate(9.9,128.7) rotate(-90)" font-size="13.2" text-anchor="middle"><tspan font-style="italic">ρ</tspan>(r)</text>
<text x="244" y="7" font-size="8.5" text-anchor="middle" stroke-width="0.12"><tspan font-style="italic">c</tspan>=1</text>
<path d="M75.7,141.35 H111.0" stroke="#ff8080" stroke-width="2" fill="none"/>
<text y="144.3" font-size="10.1" letter-spacing="0.25" stroke-width="0.25"><tspan x="115" font-style="italic">β</tspan>=100,<tspan x="157">w=0.05,</tspan><tspan x="200">v=0.5</tspan></text>
<path d="M75.7,160.10 H108.0" stroke="#aaaa00" stroke-width="2" fill="none" stroke-dasharray="2.5 1.9 5.3 1.9"/>
<text y="163.1" font-size="10.1" letter-spacing="0.25" stroke-width="0.25"><tspan x="115" font-style="italic">β</tspan>=100,<tspan x="157">w=0.05,</tspan><tspan x="200">v=2.0</tspan></text>
<path d="M75.7,178.85 H108.8" stroke="#0000aa" stroke-width="2" fill="none" stroke-dasharray="2.6 1.8"/>
<text y="181.8" font-size="10.1" letter-spacing="0.25" stroke-width="0.25"><tspan x="115" font-style="italic">β</tspan>=100,<tspan x="157">w=0.05,</tspan><tspan x="200">v=1.0</tspan></text>
<path d="M75.7,197.60 H111.0" stroke="#aa0000" stroke-width="2" fill="none" stroke-dasharray="6.0 1.6"/>
<text y="200.6" font-size="10.1" letter-spacing="0.25" stroke-width="0.25"><tspan x="115" font-style="italic">β</tspan>=500,<tspan x="157">w=0.00,</tspan><tspan x="200">v=1.0</tspan></text>
<path d="M75.7,216.35 H108.5" stroke="#000000" stroke-width="2" fill="none" stroke-dasharray="9.2 2.6"/>
<text y="219.3" font-size="10.1" letter-spacing="0.25" stroke-width="0.25"><tspan x="115" font-style="italic">β</tspan>=1000,<tspan x="157">w=0.01,</tspan><tspan x="200">v=1.0</tspan></text>
<path d="M75.7,235.10 H110.6" stroke="#00aa00" stroke-width="2" fill="none" stroke-dasharray="13.9 6.9"/>
<text y="238.1" font-size="10.1" letter-spacing="0.25" stroke-width="0.25"><tspan x="115" font-style="italic">β</tspan>=500,<tspan x="157">w=0.01,</tspan><tspan x="200">v=1.0</tspan></text>
</svg></body></html>
